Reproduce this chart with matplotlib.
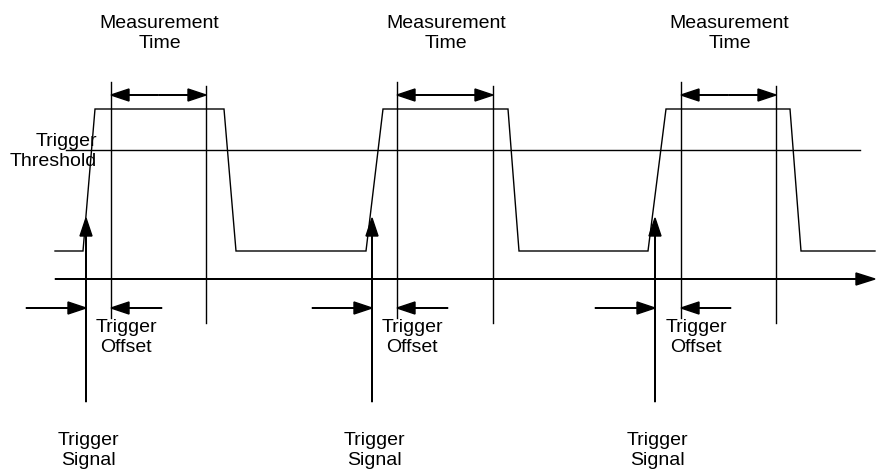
import matplotlib.pyplot as plt

plt.rcParams['font.family'] = ['Liberation Sans', 'DejaVu Sans']

# timing of the three pulses (pixel units of the original drawing)
rise_start = [83, 366, 648]
rise_end = [95, 383, 666]
fall_start = [224, 508, 790]
fall_end = [236, 519, 801]
meas_start = [111, 397, 681]
meas_stop = [206, 493, 776]
trig_x = [86, 372, 655]
offset_left = [26, 312, 595]
offset_right = [162, 448, 731]

# levels
y_low = 251
y_high = 109
y_threshold = 150
y_axis = 279
x_begin = 55
x_end = 875
threshold_begin = 66
threshold_end = 860

fs = 14
lw = 1.0

fig = plt.figure(figsize=(8.8, 4.75), dpi=100)
ax = fig.add_axes([0, 0, 1, 1])
ax.set_xlim(0, 880)
ax.set_ylim(475, 0)
ax.axis('off')

# waveform
xs = [x_begin]
ys = [y_low]
for a, b, c, d in zip(rise_start, rise_end, fall_start, fall_end):
    xs += [a, b, c, d]
    ys += [y_low, y_high, y_high, y_low]
xs.append(x_end)
ys.append(y_low)
ax.plot(xs, ys, color='black', lw=lw, solid_joinstyle='miter')

# threshold
ax.plot([threshold_begin, threshold_end], [y_threshold, y_threshold], color='black', lw=lw)

# time axis
ax.arrow(x_begin, y_axis, x_end - x_begin, 0, head_width=12, head_length=19,
         length_includes_head=True, fc='black', ec='black', lw=lw)


def head_arrow(x0, y0, x1, y1):
    ax.arrow(x0, y0, x1 - x0, y1 - y0, head_width=12, head_length=18,
             length_includes_head=True, fc='black', ec='black', lw=lw)


for i in range(3):
    m0, m1 = meas_start[i], meas_stop[i]
    # measurement gate lines
    ax.plot([m0, m0], [82, 318], color='black', lw=lw)
    ax.plot([m1, m1], [86, 323], color='black', lw=lw)
    # measurement time double arrow
    mid = (m0 + m1) / 2
    head_arrow(mid, 95, m0, 95)
    head_arrow(mid, 95, m1, 95)
    # trigger signal
    head_arrow(trig_x[i], 402, trig_x[i], 218)
    # trigger offset arrows
    head_arrow(offset_left[i], 308, trig_x[i], 308)
    head_arrow(offset_right[i], 308, m0, 308)

    ax.text((m0 + m1) / 2 + 1, 15, 'Measurement\nTime', ha='center', va='top',
            fontsize=fs, linespacing=1.25)
    ax.text(m0 + 15, 319, 'Trigger\nOffset', ha='center', va='top',
            fontsize=fs, linespacing=1.25)
    ax.text(trig_x[i] + 2, 432, 'Trigger\nSignal', ha='center', va='top',
            fontsize=fs, linespacing=1.25)

ax.text(97, 133, 'Trigger\nThreshold', ha='right', va='top', multialignment='right',
        fontsize=fs, linespacing=1.25)

plt.savefig('out.png', dpi=100)
